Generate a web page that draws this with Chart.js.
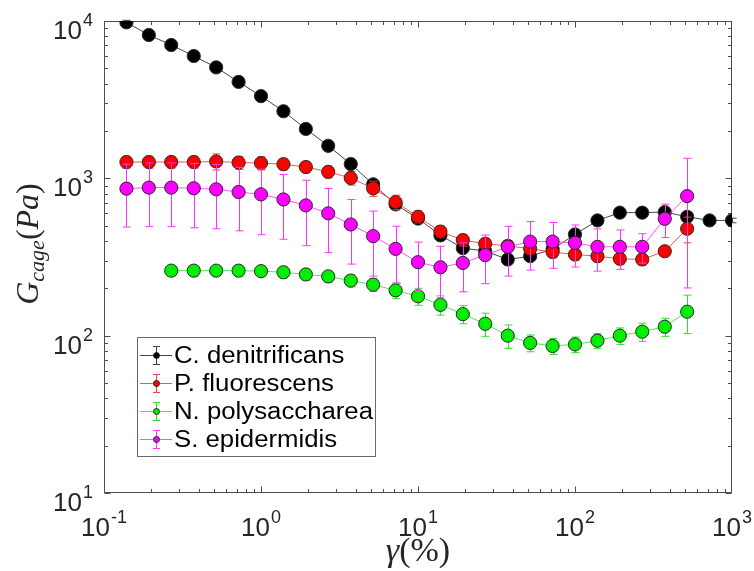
<!DOCTYPE html>
<html>
<head>
<meta charset="utf-8">
<script src="https://cdn.jsdelivr.net/npm/chart.js@4.4.1/dist/chart.umd.min.js"></script>
<style>
  html, body { margin: 0; padding: 0; background: #fff; }
  canvas { display: block; }
</style>
</head>
<body>
<canvas id="cage" width="754" height="571"></canvas>
<script>
// Strain amplitudes (%) of the sweep
const strainPct = [0.139, 0.193, 0.268, 0.373, 0.518, 0.720, 1.00, 1.39, 1.93, 2.68,
                   3.73, 5.18, 7.20, 10.0, 13.9, 19.3, 26.8, 37.3, 51.8, 72.0,
                   100, 139, 193, 268, 373, 518, 720, 1000];

// G_cage (Pa) per strain
const cDenitrificans    = [9800, 8150, 7040, 5990, 5070, 4100, 3330, 2670, 2060, 1610,
                           1233, 916, 683, 555, 434, 360, 345, 305, 320, 355,
                           440, 540, 605, 605, 610, 570, 540, 540];
const cDenitrificansErr = [300, 250, 200, 180, 150, 120, 100, 80, 60, 50,
                           40, 30, 25, 20, 15, 12, 12, 10, 10, 12,
                           15, 18, 20, 20, 20, 18, 18, 18];

const pFluorescens      = [1270, 1270, 1270, 1270, 1280, 1260, 1250, 1230, 1180, 1100,
                           1005, 863, 706, 570, 459, 405, 384, 372, 357, 340,
                           328, 320, 308, 305, 344, 478];
const pFluorescensErr   = [110, 110, 110, 110, 150, 120, 120, 100, 95, 95,
                           100, 95, 75, 50, 40, 35, 32, 30, 28, 28,
                           26, 25, 24, 24, 22, 89];

const nPolysaccharea    = [259, 259, 259, 259, 257, 253, 245, 238, 224, 211,
                           194, 178, 157, 137, 119, 100, 90, 86, 88, 93,
                           100, 106, 114, 142];
const nPolysacchareaErr = [20, 20, 20, 20, 20, 20, 20, 20, 20, 20,
                           22, 22, 22, 18, 20, 17, 11, 10, 10, 10,
                           12, 14, 15, 39];

const sEpidermidis      = [860, 873, 873, 865, 851, 819, 791, 734, 673, 599,
                           509, 429, 356, 293, 272, 290, 325, 367, 396, 396,
                           389, 367, 367, 367, 553, 771];
const sEpidermidisErr   = [370, 380, 380, 380, 373, 355, 353, 324, 300, 262,
                           224, 190, 140, 100, 98, 100, 111, 128, 135, 128,
                           116, 110, 103, 78, 132, 570];

// First strain index used by each series
const seriesStart = [0, 0, 2, 0];
const seriesNames = ['C. denitrificans', 'P. fluorescens', 'N. polysaccharea', 'S. epidermidis'];
const seriesValues = [cDenitrificans, pFluorescens, nPolysaccharea, sEpidermidis];
const seriesErrors = [cDenitrificansErr, pFluorescensErr, nPolysacchareaErr, sEpidermidisErr];

// Axis decades and their exponents
const xDecades = [0.1, 1, 10, 100, 1000];
const xExponents = ['-1', '0', '1', '2', '3'];
const yDecades = [10, 100, 1000, 10000];
const yExponents = ['1', '2', '3', '4'];

const fillColors = ['#000000', '#ff0000', '#00ee00', '#ff00ff'];
const lineColors = ['#474747', '#ff5050', '#50e850', '#ff50ff'];
const barColors  = ['#404040', '#ff4040', '#30dd30', '#ff33ff'];

const datasets = seriesValues.map((vals, i) => ({
  label: seriesNames[i],
  data: vals.map((v, k) => ({ x: strainPct[k + seriesStart[i]], y: v })),
  errors: seriesErrors[i],
  borderColor: lineColors[i],
  borderWidth: 1,
  backgroundColor: fillColors[i],
  pointBackgroundColor: fillColors[i],
  pointBorderColor: '#2a2a2a',
  pointBorderWidth: 1,
  pointRadius: 6.6,
  pointHoverRadius: 6.6,
  tension: 0,
  fill: false,
  order: 4 - i
}));

// Vertical error bars, drawn just beneath each series' markers
const errorBars = {
  id: 'errorBars',
  beforeDatasetDraw(chart, args) {
    const ds = chart.data.datasets[args.index];
    const meta = args.meta;
    const yS = chart.scales.y;
    const ctx = chart.ctx;
    ctx.save();
    ctx.strokeStyle = barColors[args.index];
    ctx.lineWidth = 1;
    ds.data.forEach((p, k) => {
      const e = ds.errors[k];
      const px = Math.round(meta.data[k].x) + 0.5;
      const lo = Math.max(p.y - e, yS.min);
      const yTop = yS.getPixelForValue(p.y + e);
      const yBot = yS.getPixelForValue(lo);
      ctx.beginPath();
      ctx.moveTo(px, yTop); ctx.lineTo(px, yBot);
      ctx.moveTo(px - 4, yTop); ctx.lineTo(px + 4, yTop);
      ctx.moveTo(px - 4, yBot); ctx.lineTo(px + 4, yBot);
      ctx.stroke();
    });
    ctx.restore();
  }
};

// Box around the plot with inward major/minor log ticks on all sides
const frame = {
  id: 'frame',
  beforeDatasetsDraw(chart) {
    const { ctx, chartArea: a, scales: { x, y } } = chart;
    const L = Math.round(a.left) + 0.5, R = Math.round(a.right) - 0.5;
    const T = Math.round(a.top) + 0.5, B = Math.round(a.bottom) - 0.5;
    ctx.save();
    ctx.strokeStyle = '#4d4d4d';
    ctx.lineWidth = 1;
    ctx.strokeRect(L, T, R - L, B - T);
    ctx.beginPath();
    for (let d = -1; d <= 2; d++) {
      for (let m = 1; m <= 9; m++) {
        const v = m * Math.pow(10, d);
        const px = Math.round(x.getPixelForValue(v)) + 0.5;
        const len = m === 1 ? 6 : 3.5;
        ctx.moveTo(px, B); ctx.lineTo(px, B - len);
        ctx.moveTo(px, T); ctx.lineTo(px, T + len);
      }
    }
    for (let d = 1; d <= 3; d++) {
      for (let m = 1; m <= 9; m++) {
        const v = m * Math.pow(10, d);
        const py = Math.round(y.getPixelForValue(v)) + 0.5;
        const len = m === 1 ? 6 : 3.5;
        ctx.moveTo(L, py); ctx.lineTo(L + len, py);
        ctx.moveTo(R, py); ctx.lineTo(R - len, py);
      }
    }
    ctx.stroke();
    ctx.restore();
  }
};

// Decade labels "10" with a raised exponent, placed by the scales
const BASE_FONT = '26px "Liberation Sans", Arial, sans-serif';
const EXP_FONT  = '18px "Liberation Sans", Arial, sans-serif';
function measurePow(ctx, exp) {
  ctx.font = BASE_FONT; const wb = ctx.measureText('10').width;
  ctx.font = EXP_FONT;  const we = ctx.measureText(exp).width;
  return { wb, we, w: wb + we + 1 };
}
function drawPow(ctx, exp, left, baseline) {
  const m = measurePow(ctx, exp);
  ctx.font = BASE_FONT; ctx.fillText('10', left, baseline);
  ctx.font = EXP_FONT;  ctx.fillText(exp, left + m.wb + 1, baseline - 13);
}
const decadeLabels = {
  id: 'decadeLabels',
  afterDraw(chart) {
    const { ctx, chartArea: a, scales: { x, y } } = chart;
    ctx.save();
    ctx.fillStyle = '#262626';
    ctx.textBaseline = 'alphabetic';
    ctx.textAlign = 'left';
    xDecades.forEach((v, i) => {
      const m = measurePow(ctx, xExponents[i]);
      drawPow(ctx, xExponents[i], x.getPixelForValue(v) - m.w / 2, a.bottom + 43);
    });
    yDecades.forEach((v, i) => {
      const m = measurePow(ctx, yExponents[i]);
      drawPow(ctx, yExponents[i], a.left - 11 - m.w, y.getPixelForValue(v) + 18);
    });
    ctx.restore();
  }
};

// Draws a run of text pieces with individual fonts and baseline shifts
function drawPieces(ctx, pieces, cx, baseline) {
  let total = 0;
  pieces.forEach(p => { ctx.font = p.f; p.w = ctx.measureText(p.t).width; total += p.w; });
  let xx = cx - total / 2;
  pieces.forEach(p => {
    ctx.font = p.f;
    ctx.fillText(p.t, xx, baseline + (p.dy || 0));
    xx += p.w;
  });
}

const titles = {
  id: 'titles',
  afterDraw(chart) {
    const ctx = chart.ctx;
    const a = chart.chartArea;
    const serif = '"Liberation Serif", "Times New Roman", serif';
    const it32 = 'italic 32px ' + serif;
    const up32 = '32px ' + serif;
    const it22 = 'italic 22px ' + serif;
    const up34 = '34px ' + serif;
    ctx.save();
    ctx.fillStyle = '#262626';
    ctx.textBaseline = 'alphabetic';
    ctx.textAlign = 'left';
    drawPieces(ctx, [
      { t: '\u03B3', f: 'italic 34px ' + serif }, { t: '(', f: up34 }, { t: '%', f: up34 }, { t: ')', f: up34 }
    ], (a.left + a.right) / 2, 561);
    ctx.translate(38, 244);
    ctx.rotate(-Math.PI / 2);
    drawPieces(ctx, [
      { t: 'G', f: it32 }, { t: 'cage', f: it22, dy: 6 }, { t: '(', f: up32 },
      { t: 'P', f: it32 }, { t: 'a', f: it32 }, { t: ')', f: up32 }
    ], 0, 0);
    ctx.restore();
  }
};

const boxLegend = {
  id: 'boxLegend',
  afterDraw(chart) {
    const ctx = chart.ctx;
    ctx.save();
    ctx.fillStyle = '#ffffff';
    ctx.fillRect(137.5, 337.5, 238, 119);
    ctx.strokeStyle = '#6a6a6a';
    ctx.lineWidth = 1;
    ctx.strokeRect(137.5, 337.5, 238, 119);
    seriesNames.forEach((name, i) => {
      const yy = Math.round(355 + i * 28.1) + 0.5;
      ctx.lineWidth = 1;
      ctx.strokeStyle = lineColors[i];
      ctx.beginPath(); ctx.moveTo(140, yy); ctx.lineTo(172, yy); ctx.stroke();
      ctx.strokeStyle = barColors[i];
      ctx.beginPath();
      ctx.moveTo(156.5, yy - 9); ctx.lineTo(156.5, yy + 9);
      ctx.moveTo(153, yy - 9); ctx.lineTo(160, yy - 9);
      ctx.moveTo(153, yy + 9); ctx.lineTo(160, yy + 9);
      ctx.stroke();
      ctx.fillStyle = fillColors[i];
      ctx.strokeStyle = '#2a2a2a';
      ctx.beginPath(); ctx.arc(156.5, yy, 3, 0, Math.PI * 2); ctx.fill(); ctx.stroke();
      ctx.save();
      ctx.translate(174, yy + 1);
      ctx.scale(1.12, 1);
      ctx.font = '23px "Liberation Sans", Arial, sans-serif';
      ctx.textBaseline = 'middle';
      ctx.fillStyle = '#000';
      ctx.fillText(name, 0, 0);
      ctx.restore();
    });
    ctx.restore();
  }
};

new Chart(document.getElementById('cage'), {
  type: 'line',
  data: { datasets },
  options: {
    responsive: false,
    animation: false,
    devicePixelRatio: 1,
    layout: { padding: { top: 21, right: 22, left: 0, bottom: 0 } },
    plugins: { legend: { display: false }, tooltip: { enabled: false } },
    scales: {
      x: {
        type: 'logarithmic',
        min: 0.1, max: 1000,
        grid: { display: false, drawTicks: false },
        border: { display: false },
        ticks: { display: false },
        afterFit: s => { s.height = 78; s.paddingLeft = 0; s.paddingRight = 0; }
      },
      y: {
        type: 'logarithmic',
        min: 10, max: 10000,
        grid: { display: false, drawTicks: false },
        border: { display: false },
        ticks: { display: false },
        afterFit: s => { s.width = 104; s.paddingTop = 0; s.paddingBottom = 0; }
      }
    }
  },
  plugins: [frame, errorBars, decadeLabels, titles, boxLegend]
});
</script>
</body>
</html>
